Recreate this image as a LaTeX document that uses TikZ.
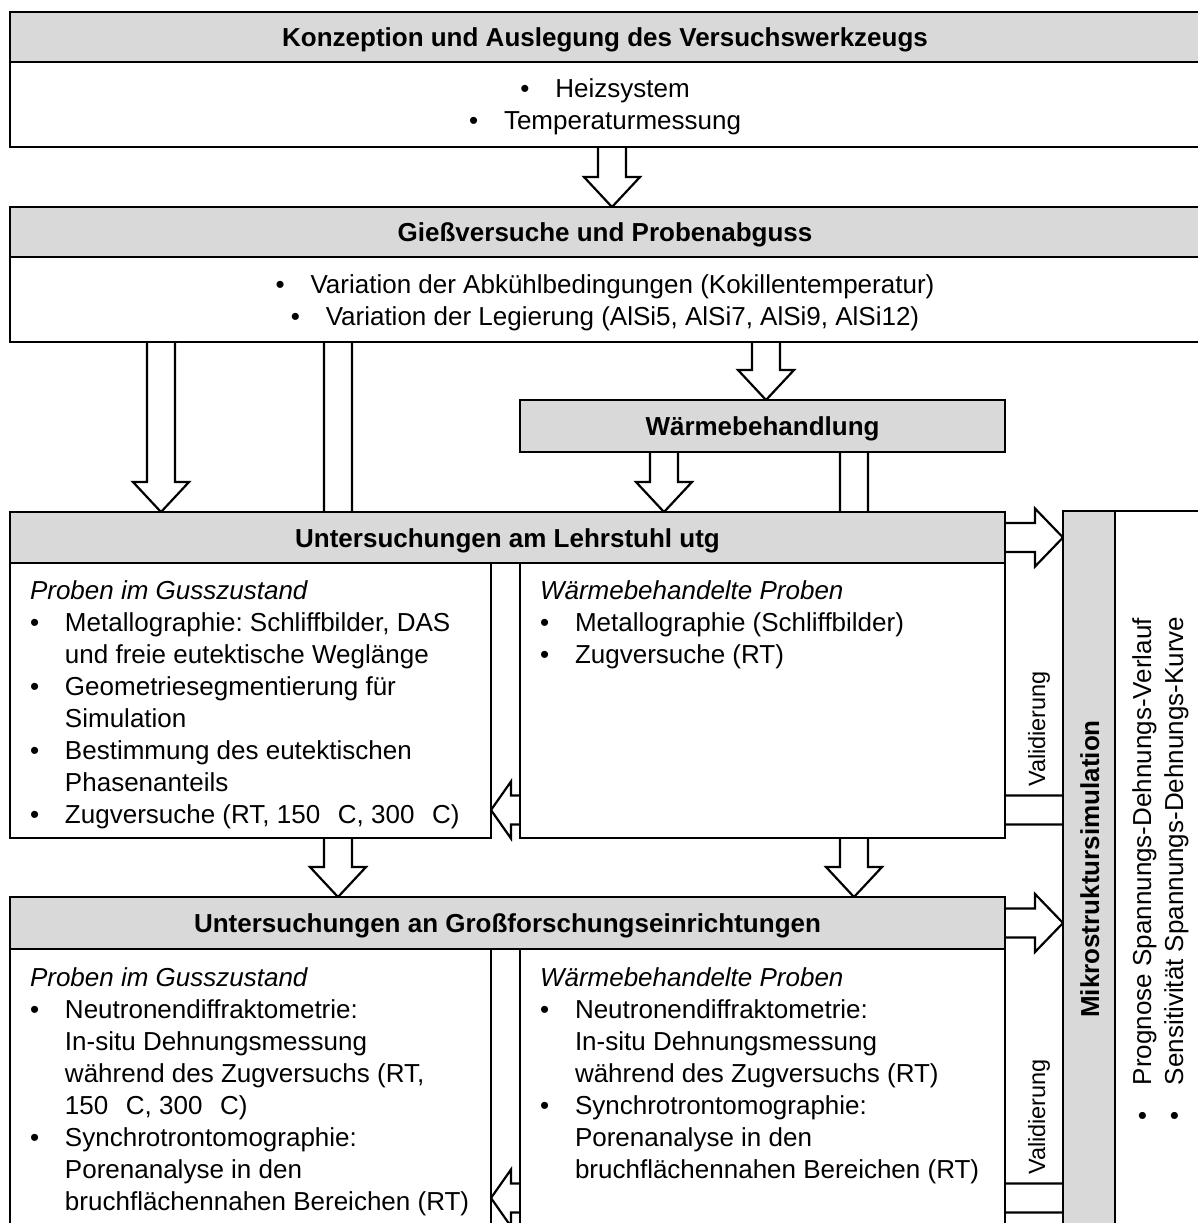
\documentclass[tikz,border=0pt]{standalone}
\usepackage{fontspec}
\setmainfont{Liberation Sans}
\usetikzlibrary{calc}
\pgfdeclarelayer{bg}
\pgfsetlayers{bg,main}
\definecolor{hdrgray}{HTML}{D9D9D9}
\frenchspacing

% list helpers: bullet with hanging indent, continuation indent, blank degree sign
\newcommand\bul{\makebox[35pt][l]{\textbullet}}
\newcommand\ind{\hspace*{35pt}}
\newcommand\dgap{\phantom{°}}

\tikzset{
  box/.style={draw, line width=2.8pt, fill=white, outer sep=0pt, inner sep=0pt, anchor=north west},
  hdr/.style={box, fill=hdrgray, font=\fontsize{26}{32}\selectfont\bfseries,
              text height=19pt, text depth=0pt},
  txt/.style={inner sep=0pt, outer sep=0pt, font=\fontsize{26}{32}\selectfont},
  vlabel/.style={inner sep=0pt, outer sep=0pt, rotate=90, anchor=base,
                 font=\fontsize{23.5}{28}\selectfont},
  arrowline/.style={draw, line width=2.2pt, fill=white, line join=miter},
  % block arrow pointing down
  vblock/.style={to path={let \p1=(\tikztostart), \p2=(\tikztotarget) in
     (\x1-14pt,\y1) -- (\x1-14pt,\y2+30pt) -- (\x1-28pt,\y2+30pt) -- (\x1,\y2)
     -- (\x1+28pt,\y2+30pt) -- (\x1+14pt,\y2+30pt) -- (\x1+14pt,\y1)}},
  % block arrow pointing right
  rblock/.style={to path={let \p1=(\tikztostart), \p2=(\tikztotarget) in
     (\x1,\y1+14.5pt) -- (\x2-28pt,\y1+14.5pt) -- (\x2-28pt,\y1+29pt) -- (\x2,\y1)
     -- (\x2-28pt,\y1-29pt) -- (\x2-28pt,\y1-14.5pt) -- (\x1,\y1-14.5pt)}},
  % block arrow pointing left (short head)
  lblock/.style={to path={let \p1=(\tikztostart), \p2=(\tikztotarget) in
     (\x1,\y1+14.5pt) -- (\x2+20pt,\y1+14.5pt) -- (\x2+20pt,\y1+28.5pt) -- (\x2,\y1)
     -- (\x2+20pt,\y1-28.5pt) -- (\x2+20pt,\y1-14.5pt) -- (\x1,\y1-14.5pt)}},
}

\begin{document}
\begin{tikzpicture}[x=1pt,y=-1pt]
\useasboundingbox (0,0) rectangle (1198,1223);

% ---- boxes ----
\node[hdr, minimum width=1190pt, minimum height=50pt] (khead) at (10,12)
  {Konzeption und Auslegung des Versuchswerkzeugs};
\node[box, minimum width=1190pt, minimum height=85pt] (kbody) at (10,62) {};

\node[hdr, minimum width=1190pt, minimum height=50pt] (ghead) at (10,207)
  {Gießversuche und Probenabguss};
\node[box, minimum width=1190pt, minimum height=85pt] (gbody) at (10,257) {};

\node[hdr, minimum width=485pt, minimum height=52pt] (wbox) at (520,400)
  {Wärmebehandlung};

\node[hdr, minimum width=995pt, minimum height=51pt] (lhead) at (10,512)
  {Untersuchungen am Lehrstuhl utg};
\node[box, minimum width=481pt, minimum height=275pt] (lleft) at (10,563) {};
\node[box, minimum width=485pt, minimum height=275pt] (lright) at (520,563) {};

\node[hdr, minimum width=995pt, minimum height=52pt] (fhead) at (10,897)
  {Untersuchungen an Großforschungseinrichtungen};
\node[box, minimum width=481pt, minimum height=300pt] (fleft) at (10,949) {};
\node[box, minimum width=485pt, minimum height=300pt] (fright) at (520,949) {};

\node[box, fill=hdrgray, minimum width=52pt, minimum height=740pt] (mikro) at (1063,511) {};
\node[box, minimum width=100pt, minimum height=740pt] (outbox) at (1115,511) {};

% ---- texts ----
\node[txt, anchor=base] (ktext) at (605,97) {\begin{tabular}[t]{@{}c@{}}
  \bul Heizsystem\\
  \bul Temperaturmessung
\end{tabular}};

\node[txt, anchor=base] (gtext) at (605,293) {\begin{tabular}[t]{@{}c@{}}
  \bul Variation der Abkühlbedingungen (Kokillentemperatur)\\
  \bul Variation der Legierung (AlSi5, AlSi7, AlSi9, AlSi12)
\end{tabular}};

\node[txt, anchor=base west] (lltext) at (30,599) {\begin{tabular}[t]{@{}l@{}}
  \textit{Proben im Gusszustand}\\
  \bul Metallographie: Schliffbilder, DAS\\
  \ind und freie eutektische Weglänge\\
  \bul Geometriesegmentierung für\\
  \ind Simulation\\
  \bul Bestimmung des eutektischen\\
  \ind Phasenanteils\\
  \bul Zugversuche (RT, 150 \dgap C, 300 \dgap C)
\end{tabular}};

\node[txt, anchor=base west] (lrtext) at (540,599) {\begin{tabular}[t]{@{}l@{}}
  \textit{Wärmebehandelte Proben}\\
  \bul Metallographie (Schliffbilder)\\
  \bul Zugversuche (RT)
\end{tabular}};

\node[txt, anchor=base west] (fltext) at (30,986) {\begin{tabular}[t]{@{}l@{}}
  \textit{Proben im Gusszustand}\\
  \bul Neutronendiffraktometrie:\\
  \ind In-situ Dehnungsmessung\\
  \ind während des Zugversuchs (RT,\\
  \ind 150 \dgap C, 300 \dgap C)\\
  \bul Synchrotrontomographie:\\
  \ind Porenanalyse in den\\
  \ind bruchflächennahen Bereichen (RT)
\end{tabular}};

\node[txt, anchor=base west] (frtext) at (540,986) {\begin{tabular}[t]{@{}l@{}}
  \textit{Wärmebehandelte Proben}\\
  \bul Neutronendiffraktometrie:\\
  \ind In-situ Dehnungsmessung\\
  \ind während des Zugversuchs (RT)\\
  \bul Synchrotrontomographie:\\
  \ind Porenanalyse in den\\
  \ind bruchflächennahen Bereichen (RT)
\end{tabular}};

\node[txt, rotate=90, anchor=base, font=\fontsize{26}{32}\selectfont\bfseries] (mtext)
  at (1099,869) {Mikrostruktursimulation};

\node[txt, rotate=90, anchor=base west] (otext) at (1151,1120) {\begin{tabular}[t]{@{}l@{}}
  \bul Prognose Spannungs-Dehnungs-Verlauf\\
  \bul Sensitivität Spannungs-Dehnungs-Kurve
\end{tabular}};

\node[vlabel] (val1) at (1045,729) {Validierung};
\node[vlabel] (val2) at (1045,1117) {Validierung};

% ---- connectors (behind the boxes) ----
\coordinate (xa) at (612,0);
\coordinate (xb) at (161,0);
\coordinate (xc) at (338,0);
\coordinate (xd) at (766,0);
\coordinate (xe) at (664,0);
\coordinate (xf) at (854,0);
\coordinate (ya) at (0,810);
\coordinate (yb) at (0,1198);

\begin{pgfonlayer}{bg}
  \draw[arrowline] (xa |- kbody.south) to[vblock] (xa |- ghead.north);
  \draw[arrowline] (xb |- gbody.south) to[vblock] (xb |- lhead.north);
  \draw[arrowline] (xc |- gbody.south) to[vblock] (xc |- fhead.north);
  \draw[arrowline] (xd |- gbody.south) to[vblock] (xd |- wbox.north);
  \draw[arrowline] (xe |- wbox.south) to[vblock] (xe |- lhead.north);
  \draw[arrowline] (xf |- wbox.south) to[vblock] (xf |- fhead.north);
  \draw[arrowline] (lhead.east) to[rblock] (mikro.west |- lhead.east);
  \draw[arrowline] (fhead.east) to[rblock] (mikro.west |- fhead.east);
  \draw[arrowline] (mikro.west |- ya) to[lblock] (lleft.east |- ya);
  \draw[arrowline] (mikro.west |- yb) to[lblock] (fleft.east |- yb);
\end{pgfonlayer}
\end{tikzpicture}
\end{document}
